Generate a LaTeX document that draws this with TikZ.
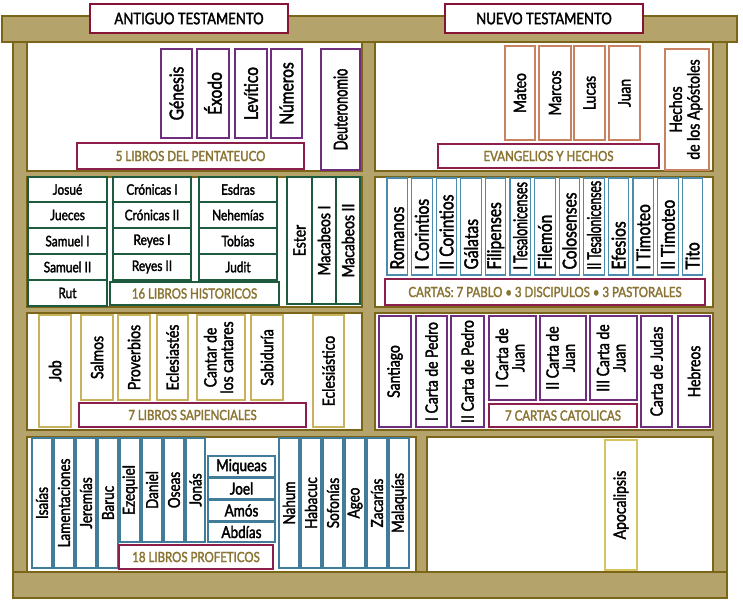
\documentclass[tikz,border=0pt]{standalone}
\usepackage{fontspec}
\setmainfont{Lato}[FakeStretch=0.82,FakeBold=2]
\definecolor{wood}{RGB}{180,164,108}
\definecolor{wooddk}{RGB}{122,101,24}
\definecolor{pent}{RGB}{110,46,125}
\definecolor{gosp}{RGB}{200,130,95}
\definecolor{hist}{RGB}{30,90,62}
\definecolor{sap}{RGB}{200,178,92}
\definecolor{paul}{RGB}{75,140,172}
\definecolor{proph}{RGB}{65,125,155}
\definecolor{apoc}{RGB}{215,196,95}
\definecolor{labbd}{RGB}{140,30,75}
\definecolor{labtx}{RGB}{138,116,50}
\definecolor{hdr}{RGB}{135,20,55}
\newcommand\vt[1]{\rotatebox{90}{#1}}
\newcommand\vs[2]{\rotatebox{90}{\scalebox{#1}[1]{#2}}}
\newcommand\vb[2]{\rotatebox{90}{\makebox[86pt][l]{\scalebox{#1}[1]{#2}}}}
\newcommand\vtt[3]{\rotatebox{90}{\begin{tabular}{@{}c@{}}#2\\[#1]#3\end{tabular}}}
\newcommand\bk[7]{\node[#2,minimum width={(#5-#3)*1pt},minimum height={(#6-#4)*1pt}] (#1) at ({(#3+#5)/2},{(#4+#6)/2}) {#7};}
\tikzset{
  frame/.style={fill=wood,draw=wooddk,line width=1.8pt},
  cell/.style={fill=white,draw=wooddk,line width=1.5pt},
  book/.style={draw,fill=white,line width=1.1pt,inner sep=0pt,outer sep=0pt,text=black,font=\fontsize{17}{17}\selectfont},
  big/.style={font=\fontsize{19}{19}\selectfont},
  pentb/.style={book,draw=pent},
  gospb/.style={book,draw=gosp},
  histb/.style={book,draw=hist,line width=1.6pt,font=\fontsize{14.5}{14.5}\selectfont},
  histv/.style={book,draw=hist,line width=1.6pt},
  sapb/.style={book,draw=sap},
  paulb/.style={book,draw=paul,font=\fontsize{19}{19}\selectfont},
  cathb/.style={book,draw=pent},
  prophb/.style={book,draw=proph,font=\fontsize{16.5}{16.5}\selectfont},
  propht/.style={book,draw=proph,font=\fontsize{16.5}{16.5}\selectfont},
  apocb/.style={book,draw=apoc},
  lab/.style={draw=labbd,fill=white,line width=1.2pt,inner sep=0pt,text=labtx,font=\fontsize{14}{14}\selectfont},
  hdrbox/.style={draw=hdr,fill=white,line width=2.4pt,inner sep=0pt,text=black,font=\fontsize{16}{16}\selectfont}
}
\begin{document}
\begin{tikzpicture}[x=1pt,y=-1pt]
\useasboundingbox (0,0) rectangle (743,604);
% frame
\path[frame] (13,16) rectangle (727,598);
\path[frame] (2,16) rectangle (737,42);
\path[frame] (13,572) rectangle (727,598);
% compartments
\path[cell] (27,42) rectangle (362,171);
\path[cell] (27,177) rectangle (362,307);
\path[cell] (27,313) rectangle (362,430);
\path[cell] (27,437) rectangle (416,572);
\path[cell] (375,42) rectangle (713,171);
\path[cell] (375,177) rectangle (713,307);
\path[cell] (375,313) rectangle (713,430);
\path[cell] (427,437) rectangle (713,572);
% headers
\bk{hAT}{hdrbox}{90}{4}{288}{33}{ANTIGUO TESTAMENTO}
\bk{hNT}{hdrbox}{445}{4}{643}{33}{NUEVO TESTAMENTO}
% shelf 1 left
\bk{gen}{pentb,big}{161}{49}{192}{138}{\vt{Génesis}}
\bk{exo}{pentb,big}{197}{49}{229}{138}{\vt{Éxodo}}
\bk{lev}{pentb,big}{235}{49}{267}{138}{\vt{Levítico}}
\bk{num}{pentb,big}{271}{49}{302}{138}{\vt{Números}}
\bk{deu}{pentb,big}{321}{49}{360}{170}{\vs{0.82}{Deuteronomio}}
\bk{lpent}{lab}{77}{143}{304}{169}{5 LIBROS DEL PENTATEUCO}
% shelf 1 right
\bk{mat}{gospb}{505}{46}{535}{140}{\vt{Mateo}}
\bk{mar}{gospb}{539}{46}{571}{140}{\vt{Marcos}}
\bk{luc}{gospb}{574}{46}{605}{140}{\vt{Lucas}}
\bk{jua}{gospb}{609}{46}{640}{140}{\vt{Juan}}
\bk{hec}{gospb}{665}{49}{709}{170}{\vtt{0pt}{Hechos}{de los Apóstoles}}
\bk{levan}{lab}{438}{144}{659}{168}{EVANGELIOS Y HECHOS}
% shelf 2 left
\bk{jos}{histb}{28}{177}{107}{202}{Josué}
\bk{jue}{histb}{28}{202}{107}{228}{Jueces}
\bk{sa1}{histb}{28}{228}{107}{254}{Samuel I}
\bk{sa2}{histb}{28}{254}{107}{280}{Samuel II}
\bk{rut}{histb}{28}{280}{107}{306}{Rut}
\bk{cr1}{histb}{113}{177}{191}{202}{Crónicas I}
\bk{cr2}{histb}{113}{202}{191}{228}{Crónicas II}
\bk{re1}{histb}{113}{228}{191}{254}{Reyes I}
\bk{re2}{histb}{113}{254}{191}{280}{Reyes II}
\bk{esd}{histb}{199}{177}{277}{202}{Esdras}
\bk{neh}{histb}{199}{202}{277}{228}{Nehemías}
\bk{tob}{histb}{199}{228}{277}{254}{Tobías}
\bk{jdt}{histb}{199}{254}{277}{280}{Judit}
\bk{lhist}{lab,draw=hist,line width=1.6pt}{110}{282}{279}{305}{16 LIBROS HISTORICOS}
\bk{est}{histv}{287}{177}{312}{304}{\vt{Ester}}
\bk{ma1}{histv}{312}{177}{336}{304}{\vt{Macabeos I}}
\bk{ma2}{histv}{336}{177}{360}{304}{\vt{Macabeos II}}
% shelf 2 right
\foreach \t/\s [count=\i from 0] in {Romanos/1,I Corintios/1,II Corintios/1,Gálatas/1,Filipenses/1,I Tesalonicenses/0.8,Filemón/1,Colosenses/1,II Tesalonicenses/0.78,Efesios/1,I Timoteo/1,II Timoteo/1,Tito/1}{
  \pgfmathsetmacro\xa{387+24.6*\i}
  \node[paulb,minimum width=20.5pt,minimum height=97pt] (paul\i) at ({\xa+10.25},226.5) {\vb{\s}{\t}};
}
\bk{lcartas}{lab}{385}{279}{705}{305}{CARTAS: 7 PABLO • 3 DISCIPULOS • 3 PASTORALES}
% shelf 3 left
\bk{job}{sapb}{39}{315}{71}{427}{\vt{Job}}
\bk{sal}{sapb}{81}{315}{113}{400}{\vt{Salmos}}
\bk{pro}{sapb}{118}{315}{150}{400}{\vt{Proverbios}}
\bk{ecl}{sapb}{157}{315}{188}{400}{\vt{Eclesiastés}}
\bk{can}{sapb}{197}{315}{245}{400}{\vtt{-1pt}{Cantar de}{los cantares}}
\bk{sab}{sapb}{251}{315}{283}{400}{\vt{Sabiduría}}
\bk{eco}{sapb}{313}{315}{344}{427}{\vt{Eclesiástico}}
\bk{lsap}{lab}{79}{403}{306}{427}{7 LIBROS SAPIENCIALES}
% shelf 3 right
\bk{san}{cathb}{379}{316}{411}{427}{\vt{Santiago}}
\bk{pe1}{cathb}{416}{316}{447}{427}{\vt{I Carta de Pedro}}
\bk{pe2}{cathb}{451}{316}{484}{427}{\vt{II Carta de Pedro}}
\bk{jn1}{cathb}{489}{316}{536}{400}{\vtt{-1pt}{I Carta de}{Juan}}
\bk{jn2}{cathb}{540}{316}{586}{400}{\vtt{-1pt}{II Carta de}{Juan}}
\bk{jn3}{cathb}{590}{316}{637}{400}{\vtt{-1pt}{III Carta de}{Juan}}
\bk{jud}{cathb}{641}{316}{672}{427}{\vt{Carta de Judas}}
\bk{heb}{cathb}{678}{316}{710}{427}{\vt{Hebreos}}
\bk{lcat}{lab}{489}{404}{637}{427}{7 CARTAS CATOLICAS}
% shelf 4 left
\bk{isa}{prophb}{32}{438}{52}{568}{\vt{Isaías}}
\bk{lam}{prophb}{54}{438}{74}{568}{\vt{Lamentaciones}}
\bk{jer}{prophb}{76}{438}{96}{568}{\vt{Jeremías}}
\bk{bar}{prophb}{98}{438}{118}{568}{\vt{Baruc}}
\bk{eze}{prophb}{120}{438}{140}{542}{\vt{Ezequiel}}
\bk{dan}{prophb}{142}{438}{162}{542}{\vt{Daniel}}
\bk{ose}{prophb}{164}{438}{184}{542}{\vt{Oseas}}
\bk{jon}{prophb}{186}{438}{205}{542}{\vt{Jonás}}
\bk{miq}{propht}{208}{456}{275}{477}{Miqueas}
\bk{joe}{propht}{208}{478}{275}{499}{Joel}
\bk{amo}{propht}{208}{500}{275}{521}{Amós}
\bk{abd}{propht}{208}{522}{275}{542}{Abdías}
\bk{lprof}{lab}{119}{545}{273}{569}{18 LIBROS PROFETICOS}
\bk{nah}{prophb}{279}{438}{299}{568}{\vt{Nahum}}
\bk{hab}{prophb}{301}{438}{321}{568}{\vt{Habacuc}}
\bk{sof}{prophb}{323}{438}{343}{568}{\vt{Sofonías}}
\bk{age}{prophb}{345}{438}{365}{568}{\vt{Ageo}}
\bk{zac}{prophb}{367}{438}{387}{568}{\vt{Zacarías}}
\bk{mal}{prophb}{389}{438}{409}{568}{\vt{Malaquías}}
% shelf 4 right
\bk{apo}{apocb}{605}{440}{637}{570}{\vt{Apocalipsis}}
\end{tikzpicture}
\end{document}
